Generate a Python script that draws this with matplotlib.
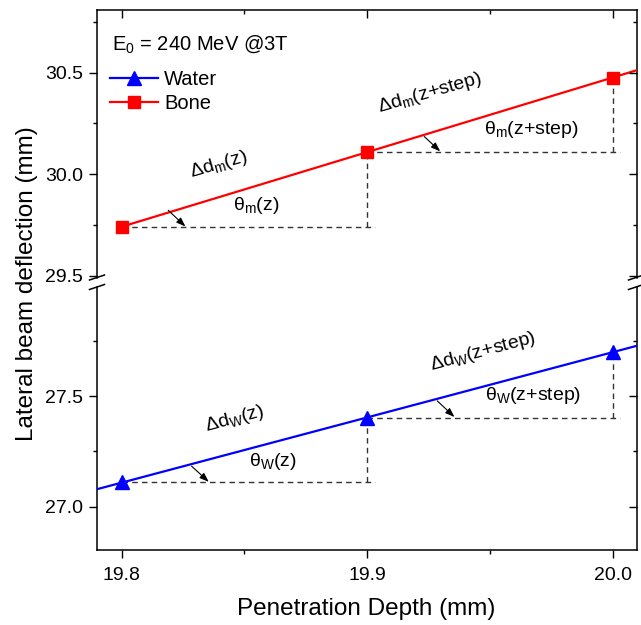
import numpy as np
import matplotlib
matplotlib.use("Agg")
import matplotlib.pyplot as plt
from matplotlib.lines import Line2D

plt.rcParams['font.family'] = ['Liberation Sans', 'DejaVu Sans']
plt.rcParams['mathtext.fontset'] = 'custom'
plt.rcParams['mathtext.rm'] = 'Liberation Sans'
plt.rcParams['mathtext.it'] = 'Liberation Sans:italic'
plt.rcParams['mathtext.default'] = 'rm'

# ---- data ----
depth = [19.8, 19.9, 20.0]
water = [27.11, 27.40, 27.70]
bone = [29.74, 30.11, 30.475]
xticks = [19.8, 19.9, 20.0]
xticklabels = ["19.8", "19.9", "20.0"]
upper_ticks = [29.5, 30.0, 30.5]
lower_ticks = [27.0, 27.5]

xlim = (19.79, 20.0098)
ylim_up = (29.491, 30.808)
ylim_lo = (26.804, 27.995)

W, H = 641, 625
fig = plt.figure(figsize=(W / 100, H / 100), dpi=100)

def fx(px):
    return px / W

def fy(py):
    return 1 - py / H

left, right = 97, 637
ax_up = fig.add_axes([fx(left), fy(277.5), fx(right - left), (277.5 - 10) / H])
ax_lo = fig.add_axes([fx(left), fy(550), fx(right - left), (550 - 286.5) / H])

for ax in (ax_up, ax_lo):
    ax.set_xlim(*xlim)
    for s in ax.spines.values():
        s.set_linewidth(1.1)
    ax.set_xticks(xticks)
    ax.set_xticks([19.85, 19.95], minor=True)
    ax.tick_params(axis='y', which='both', direction='out', left=True, right=False,
                   labelsize=14, pad=4.5, width=1.0)
    ax.tick_params(axis='both', which='major', length=5.5)
    ax.tick_params(axis='both', which='minor', length=3)
    ax.patch.set_alpha(0)

ax_up.set_ylim(*ylim_up)
ax_lo.set_ylim(*ylim_lo)
ax_up.set_yticks(upper_ticks)
ax_up.set_yticklabels([f"{v:.1f}" for v in upper_ticks])
ax_up.set_yticks([29.75, 30.25, 30.75], minor=True)
ax_lo.set_yticks(lower_ticks)
ax_lo.set_yticklabels([f"{v:.1f}" for v in lower_ticks])
ax_lo.set_yticks([27.25, 27.75], minor=True)

ax_up.spines['bottom'].set_visible(False)
ax_lo.spines['top'].set_visible(False)
ax_up.tick_params(axis='x', which='both', bottom=False, top=True, direction='in',
                  labelbottom=False, width=1.0)
ax_lo.tick_params(axis='x', which='both', bottom=True, top=False, direction='out',
                  labelsize=14, pad=6.5, width=1.0)
ax_lo.set_xticklabels(xticklabels)

# right-side inward ticks via twin axes
for ax in (ax_up, ax_lo):
    tw = ax.twinx()
    tw.set_ylim(ax.get_ylim())
    tw.set_yticks(ax.get_yticks())
    tw.set_yticks(ax.get_yticks(minor=True), minor=True)
    tw.tick_params(axis='y', which='both', direction='in', labelright=False, width=1.0)
    tw.tick_params(axis='y', which='major', length=5.5)
    tw.tick_params(axis='y', which='minor', length=3)
    for s in tw.spines.values():
        s.set_visible(False)

# ---- lines (linear fit extended to axes edges) ----
cw = np.polyfit(depth, water, 1)
cb = np.polyfit(depth, bone, 1)
xw = np.array([xlim[0], xlim[1]])
xb = np.array([depth[0], xlim[1]])
ax_lo.plot(xw, np.polyval(cw, xw), color='#0000ff', lw=1.6, zorder=3)
ax_up.plot(xb, np.polyval(cb, xb), color='#ff0000', lw=1.6, zorder=3)
ax_lo.plot(depth, water, ls='none', marker='^', ms=10, color='#0000ff', zorder=4, clip_on=False)
ax_up.plot(depth, bone, ls='none', marker='s', ms=8.5, color='#ff0000', zorder=4, clip_on=False)

# ---- dashed construction lines ----
dash = dict(color='#333333', lw=1.0, ls=(0, (4, 3)), zorder=2)
for ax, ys in ((ax_up, bone), (ax_lo, water)):
    for i in range(len(depth) - 1):
        ax.plot([depth[i], depth[i + 1] + 0.003], [ys[i], ys[i]], **dash)
        ax.plot([depth[i + 1], depth[i + 1]], [ys[i], ys[i + 1]], **dash)

# ---- arrows ----
ap = dict(arrowstyle='-|>,head_length=0.55,head_width=0.2', color='black', lw=0.8,
          shrinkA=0, shrinkB=0)
ax_up.annotate('', xy=(19.826, 29.742), xytext=(19.819, 29.822), arrowprops=ap)
ax_up.annotate('', xy=(19.9297, 30.112), xytext=(19.9232, 30.185), arrowprops=ap)
ax_lo.annotate('', xy=(19.8355, 27.112), xytext=(19.8285, 27.183), arrowprops=ap)
ax_lo.annotate('', xy=(19.9355, 27.405), xytext=(19.9285, 27.478), arrowprops=ap)

# ---- annotation texts ----
tk = dict(fontsize=14, ha='center', va='center')
fig.text(fx(219), fy(165), r'$\Delta\mathrm{d_m(z)}$', rotation=16, **tk)
fig.text(fx(256), fy(205), r'$\theta_\mathrm{m}\mathrm{(z)}$', **tk)
fig.text(fx(430), fy(93), r'$\Delta\mathrm{d_m(z{+}step)}$', rotation=16, **tk)
fig.text(fx(531), fy(130), r'$\theta_\mathrm{m}\mathrm{(z{+}step)}$', **tk)
fig.text(fx(235), fy(419), r'$\Delta\mathrm{d_W(z)}$', rotation=15, **tk)
fig.text(fx(273), fy(461), r'$\theta_\mathrm{W}\mathrm{(z)}$', **tk)
fig.text(fx(483), fy(352), r'$\Delta\mathrm{d_W(z{+}step)}$', rotation=15, **tk)
fig.text(fx(533), fy(396), r'$\theta_\mathrm{W}\mathrm{(z{+}step)}$', **tk)

fig.text(fx(112), fy(44), r'$\mathrm{E_0}$ = 240 MeV @3T', fontsize=14.5, ha='left', va='center')

# ---- legend ----
handles = [Line2D([], [], color='#0000ff', lw=1.6, marker='^', ms=10),
           Line2D([], [], color='#ff0000', lw=1.6, marker='s', ms=8.5)]
ax_up.legend(handles, ['Water', 'Bone'], loc='upper left',
             bbox_to_anchor=((110 - left) / (right - left), 1 - (70 - 10) / 267.5),
             frameon=False, fontsize=14.5, handlelength=2.4, handletextpad=0.3,
             labelspacing=0.25, borderpad=0, borderaxespad=0, numpoints=1)

# ---- axis labels ----
fig.text(fx(366), fy(609), 'Penetration Depth (mm)', fontsize=17.5, ha='center', va='center')
fig.text(fx(27), fy(284), 'Lateral beam deflection (mm)', fontsize=17.5, ha='center',
         va='center', rotation=90)

# ---- axis break marks ----
def slash(xc, yc):
    fig.add_artist(Line2D([fx(xc - 7.5), fx(xc + 7.5)], [fy(yc + 2.5), fy(yc - 2.5)],
                          color='black', lw=1.1, transform=fig.transFigure))

for xc in (left, right - 1):
    slash(xc, 277.5)
    slash(xc, 287)

fig.savefig('out.png', dpi=100)
